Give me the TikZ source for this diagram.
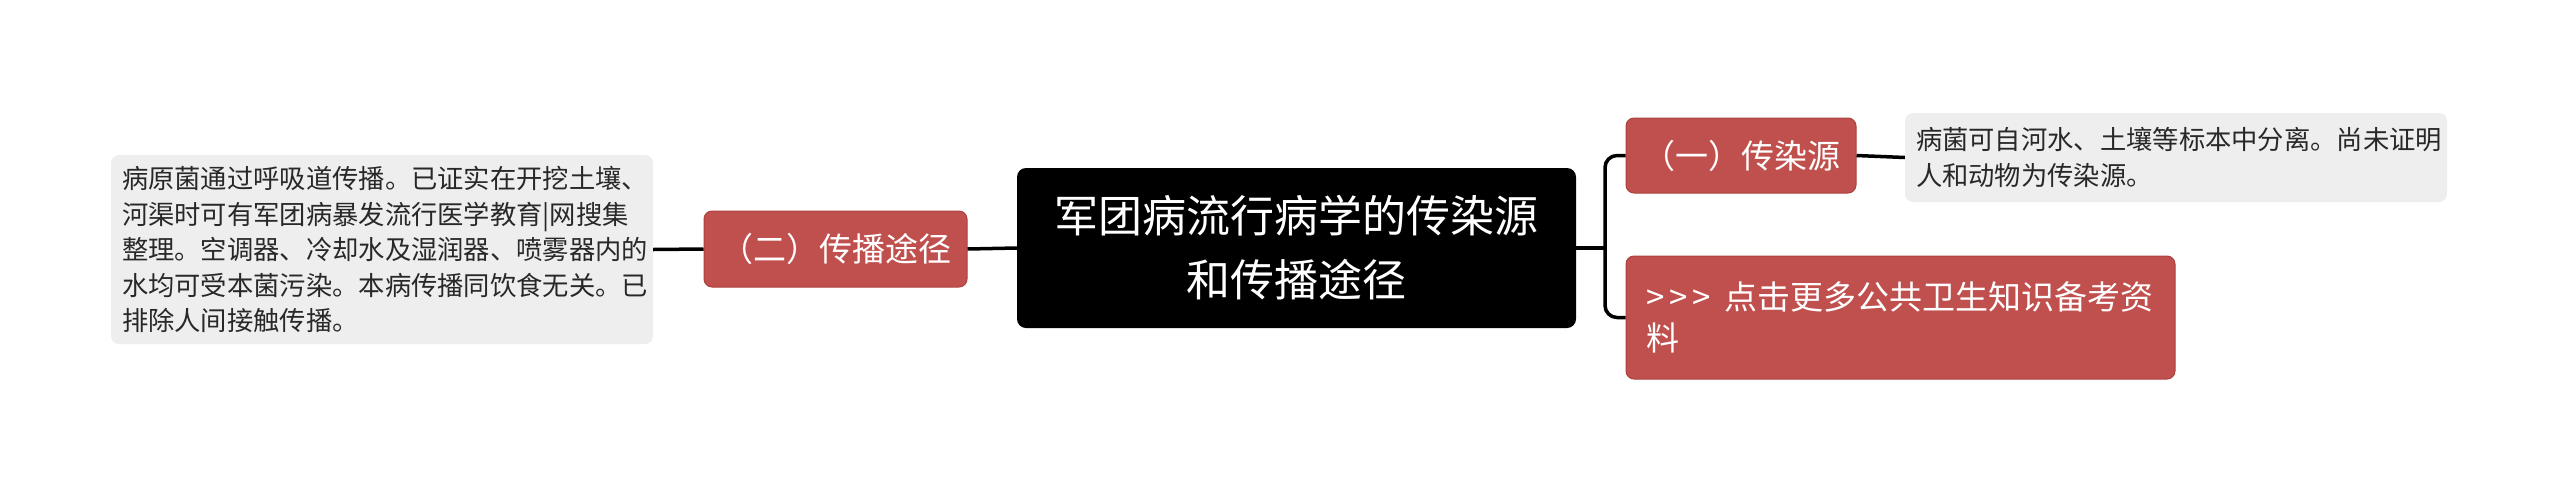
\documentclass[tikz,border=0pt]{standalone}
\usepackage{fontspec}
\setmainfont{Noto Sans CJK SC}
\definecolor{redn}{RGB}{192,80,77}
\definecolor{redb}{RGB}{172,66,63}
\definecolor{grayn}{RGB}{238,238,238}
\definecolor{txt}{RGB}{40,40,40}
\begin{document}
\begin{tikzpicture}[x=1pt,y=-1pt,
  graybox/.style={fill=grayn, rounded corners=8pt, text=txt, font=\fontsize{26.3}{35.5}\selectfont, align=left, inner xsep=11pt, inner ysep=0pt, anchor=center},
  redbox/.style={fill=redn, draw=redb, line width=1pt, rounded corners=8pt, text=white, font=\fontsize{33}{41}\selectfont, inner sep=0pt, anchor=center},
  rootbox/.style={fill=black, rounded corners=9pt, text=white, font=\fontsize{44}{64}\selectfont, align=center, inner sep=0pt, anchor=center},
  link/.style={line width=3.5pt, draw=black}
]
\useasboundingbox (0,0) rectangle (2560,491);
\fill[white] (0,0) rectangle (2560,491);

\node[rootbox, minimum width=559pt, minimum height=160pt] (c) at (1296.5,248) {军团病流行病学的传染源\\和传播途径};

\node[redbox, minimum width=263pt, minimum height=76pt] (r2) at (835.5,249) {（二）传播途径};

\node[graybox, text width=520pt, minimum height=189pt] (lg) at (382,249.5) {病原菌通过呼吸道传播。已证实在开挖土壤、\\河渠时可有军团病暴发流行医学教育|网搜集\\整理。空调器、冷却水及湿润器、喷雾器内的\\水均可受本菌污染。本病传播同饮食无关。已\\排除人间接触传播。};

\node[redbox, minimum width=230pt, minimum height=75pt] (r1) at (1741,155.5) {（一）传染源};

\node[graybox, text width=520pt, minimum height=89pt] (rg) at (2176,157.5) {病菌可自河水、土壤等标本中分离。尚未证明\\人和动物为传染源。};

\node[redbox, minimum width=549pt, minimum height=123pt, text width=509pt, align=left, inner xsep=20pt] (lk) at (1900.5,317.5) {>\kern5pt>\kern5pt>\hspace{14pt}点击更多公共卫生知识备考资\\料};

\coordinate (t) at (1605,248);

\draw[link] (lg.east) -- (r2.west);
\draw[link] (r2.east) -- (c.west);
\draw[link] (c.east) -- (t);
\draw[link, rounded corners=12pt] (t) |- (r1.west);
\draw[link, rounded corners=12pt] (t) |- (lk.west);
\draw[link] (r1.east) -- (rg.west);
\end{tikzpicture}
\end{document}
